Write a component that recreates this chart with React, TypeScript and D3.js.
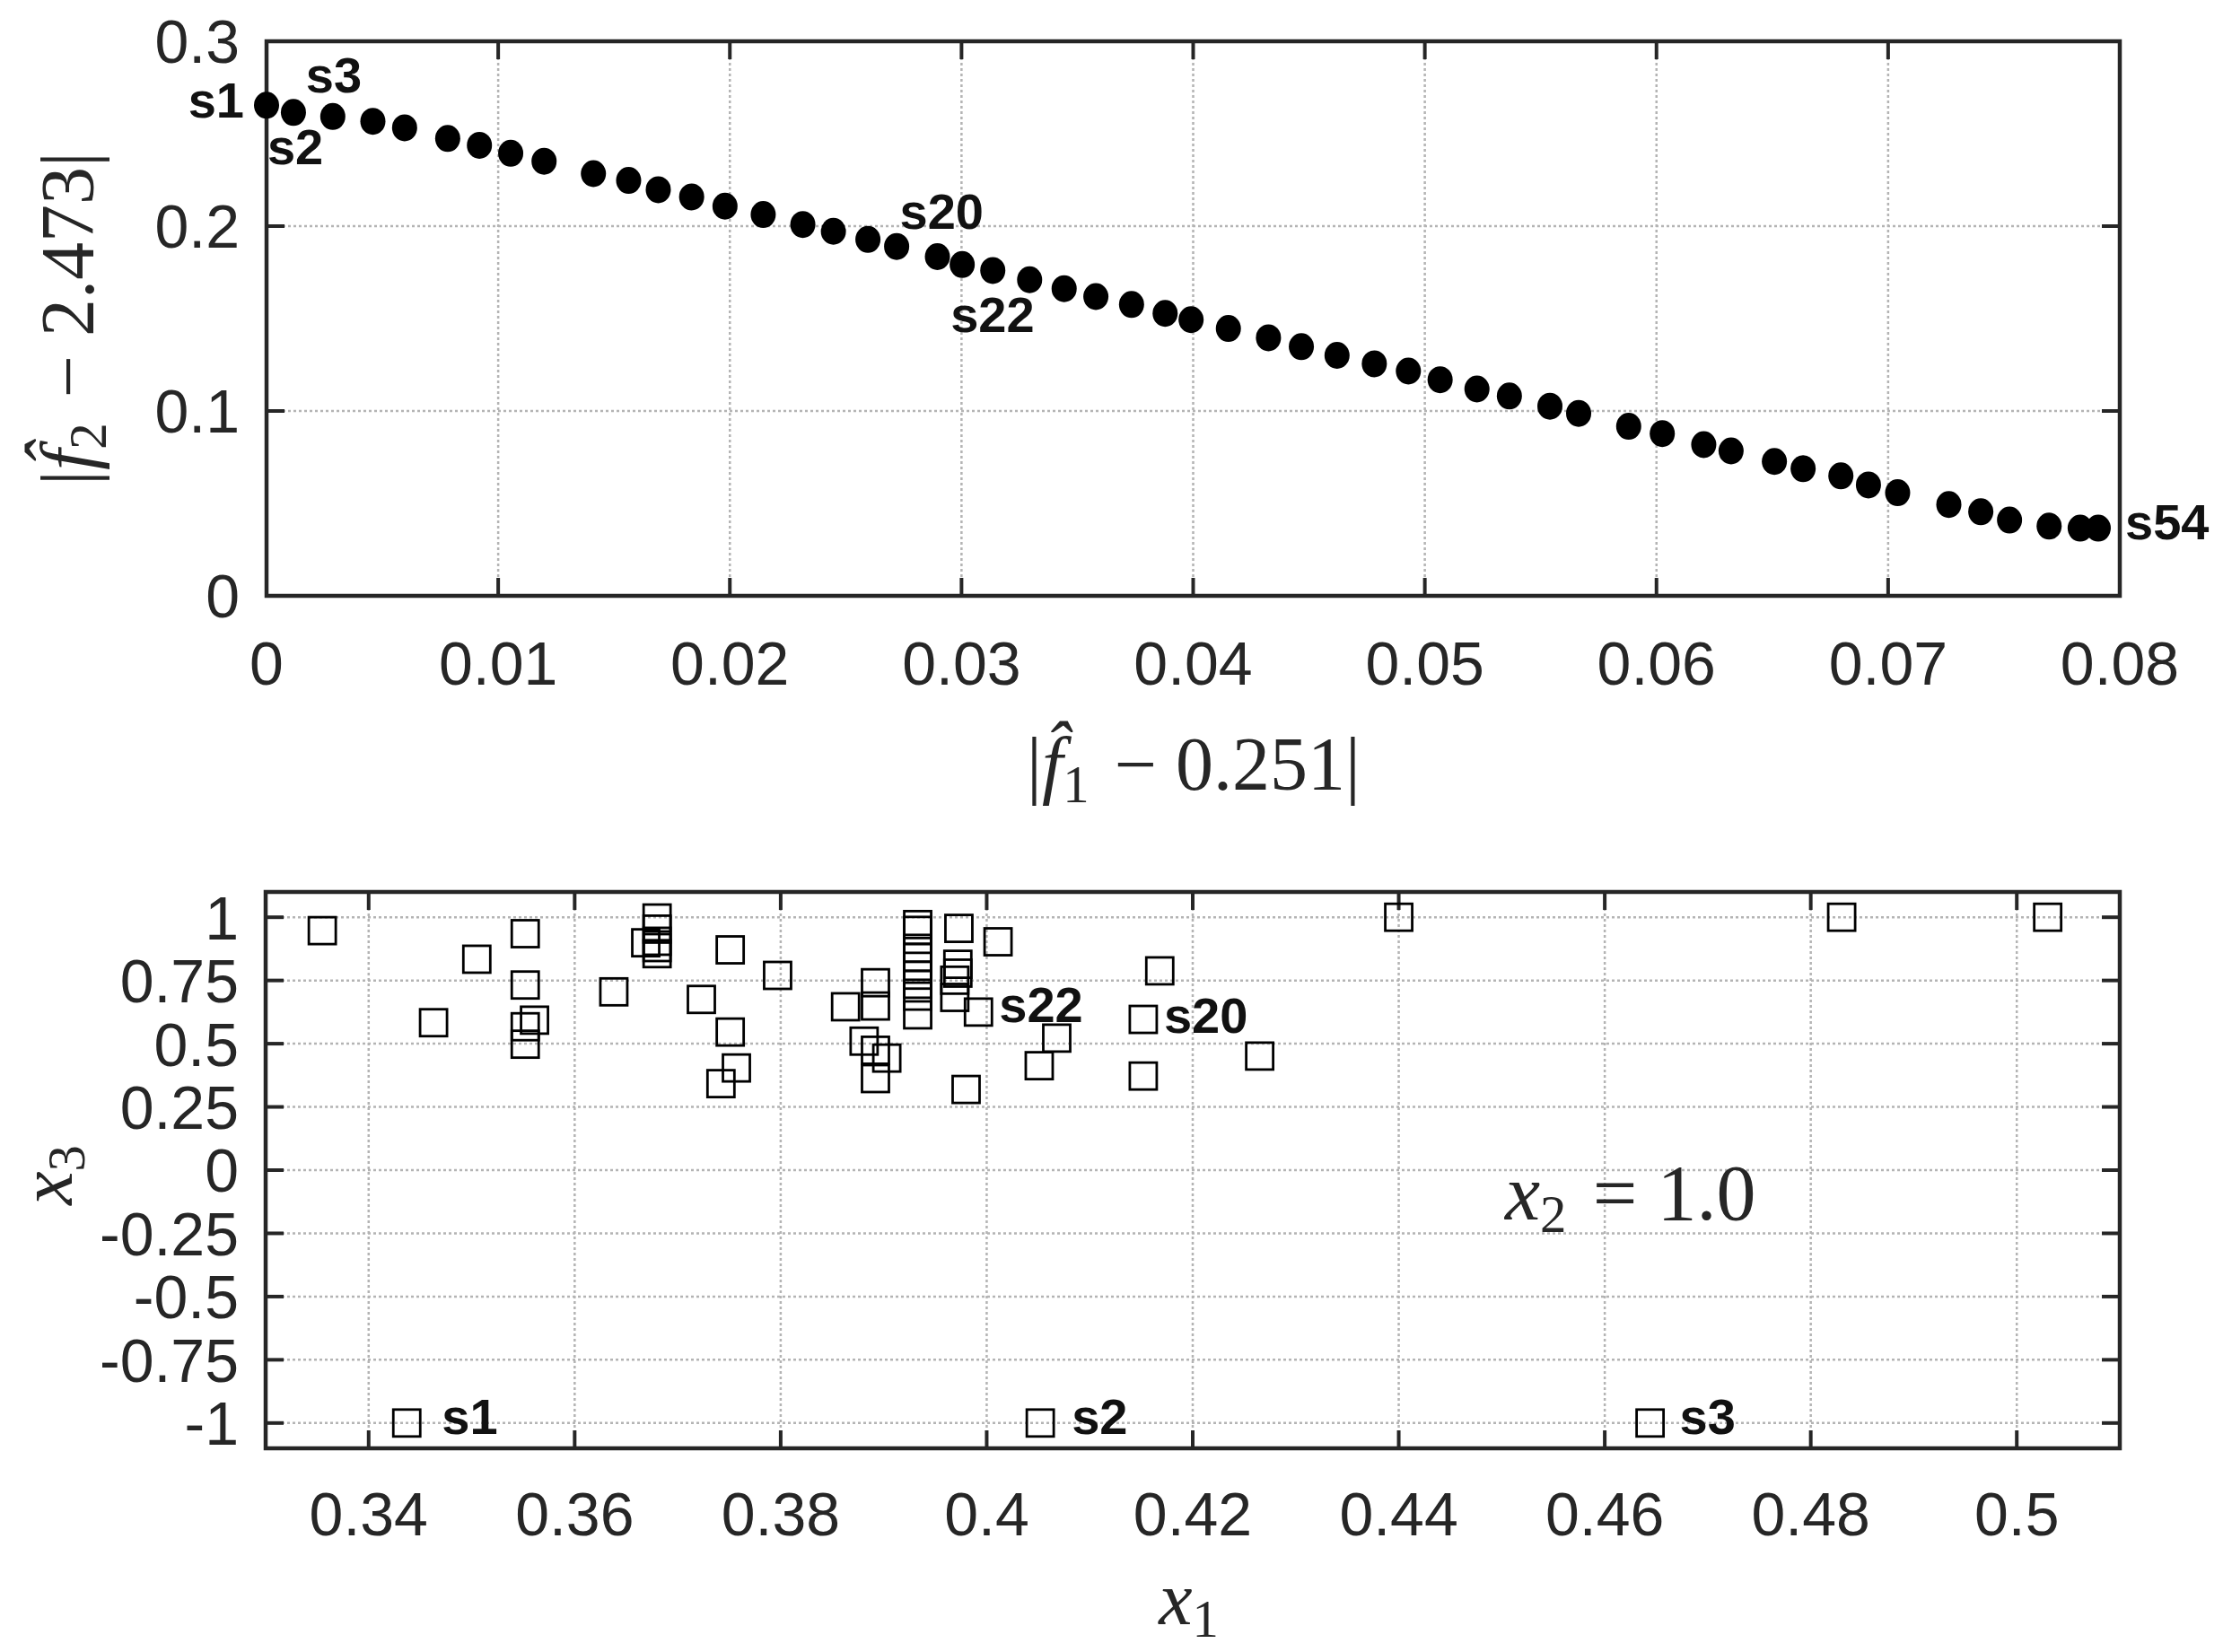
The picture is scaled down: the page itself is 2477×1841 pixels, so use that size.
import React from 'react';
import * as d3 from 'd3';

// ---- top panel: objective-space distances ----
const f1Dist = [
  0, 0.00116, 0.00286, 0.00459, 0.00596, 0.00782, 0.00919, 0.01054, 0.01198, 0.01411,
  0.01563, 0.01691, 0.01835, 0.01979, 0.02144, 0.02315, 0.02447, 0.02596, 0.0272, 0.02896,
  0.03003, 0.03135, 0.03294, 0.03443, 0.0358, 0.03734, 0.03879, 0.03991, 0.04152, 0.04325,
  0.04467, 0.04621, 0.04782, 0.04929, 0.05066, 0.05225, 0.05365, 0.0554, 0.05664, 0.0588,
  0.06025, 0.06204, 0.06322, 0.06509, 0.06633, 0.06796, 0.06915, 0.07041, 0.07262, 0.074,
  0.07524, 0.07695, 0.07829, 0.07907,
];
const f2Dist = [
  0.2654, 0.2615, 0.2593, 0.2567, 0.2532, 0.2474, 0.2437, 0.2394, 0.2351, 0.2284,
  0.2247, 0.2197, 0.2158, 0.2108, 0.2063, 0.2009, 0.1972, 0.1928, 0.189, 0.1835,
  0.1792, 0.176, 0.171, 0.1662, 0.1619, 0.1576, 0.1528, 0.1494, 0.1446, 0.1396,
  0.1348, 0.1301, 0.1255, 0.1216, 0.1169, 0.1119, 0.1081, 0.1026, 0.0987, 0.0917,
  0.0878, 0.0818, 0.0784, 0.0727, 0.0688, 0.0649, 0.06, 0.0558, 0.0494, 0.0455,
  0.041, 0.0377, 0.0366, 0.0366,
];
const topXTicks = [0, 0.01, 0.02, 0.03, 0.04, 0.05, 0.06, 0.07, 0.08];
const topXTickLabels = ['0', '0.01', '0.02', '0.03', '0.04', '0.05', '0.06', '0.07', '0.08'];
const topYTicks = [0, 0.1, 0.2, 0.3];
const topYTickLabels = ['0', '0.1', '0.2', '0.3'];

// ---- bottom panel: design variables ----
const x1Vals = [
  0.3437, 0.4052, 0.4644,
  0.3355, 0.3505, 0.3552, 0.3552, 0.3463, 0.3552, 0.3552, 0.3561, 0.3638,
  0.368, 0.368, 0.368, 0.368, 0.368, 0.3669,
  0.3751, 0.3797, 0.3723, 0.3751, 0.3757, 0.3742,
  0.3863, 0.3892, 0.3892, 0.3881, 0.3892, 0.3903, 0.3892,
  0.3933, 0.3933, 0.3933, 0.3933, 0.3933, 0.3933, 0.3933, 0.3933, 0.3933,
  0.3973, 0.3972, 0.3972, 0.3969, 0.3969,
  0.3992, 0.4011, 0.398,
  0.4068, 0.4051, 0.4168, 0.4152, 0.4152, 0.4265,
  0.44, 0.483, 0.503,
];
const x3Vals = [
  -1, -1, -1,
  0.947, 0.834, 0.935, 0.732, 0.583, 0.567, 0.498, 0.593, 0.705,
  0.997, 0.953, 0.905, 0.88, 0.856, 0.899,
  0.871, 0.77, 0.675, 0.546, 0.404, 0.342,
  0.646, 0.741, 0.649, 0.51, 0.474, 0.443, 0.362,
  0.971, 0.948, 0.877, 0.841, 0.806, 0.771, 0.735, 0.688, 0.614,
  0.956, 0.814, 0.779, 0.751, 0.683,
  0.625, 0.903, 0.319,
  0.522, 0.413, 0.788, 0.596, 0.372, 0.451,
  1, 1, 1,
];
const botXTicks = [0.34, 0.36, 0.38, 0.4, 0.42, 0.44, 0.46, 0.48, 0.5];
const botXTickLabels = ['0.34', '0.36', '0.38', '0.4', '0.42', '0.44', '0.46', '0.48', '0.5'];
const botYTicks = [1, 0.75, 0.5, 0.25, 0, -0.25, -0.5, -0.75, -1];
const botYTickLabels = ['1', '0.75', '0.5', '0.25', '0', '-0.25', '-0.5', '-0.75', '-1'];

// annotated solutions: index into the arrays above + pixel nudge of the text
const topNotes = [
  { i: 0, text: 's1', dx: -25, dy: 14, anchor: 'end' },
  { i: 1, text: 's2', dx: -29, dy: 58, anchor: 'start' },
  { i: 2, text: 's3', dx: -30, dy: -27, anchor: 'start' },
  { i: 19, text: 's20', dx: -42, dy: -31, anchor: 'start' },
  { i: 21, text: 's22', dx: -47, dy: 69, anchor: 'start' },
  { i: 53, text: 's54', dx: 30, dy: 12, anchor: 'start' },
];
const botNotes = [
  { i: 0, text: 's1', dx: 39, dy: 12 },
  { i: 1, text: 's2', dx: 35, dy: 12 },
  { i: 2, text: 's3', dx: 33, dy: 12 },
  { i: 45, text: 's22', dx: 23, dy: 11 },
  { i: 51, text: 's20', dx: 23, dy: 15 },
];

const W = 2477;
const H = 1841;
const AXIS = '#262626';
const SANS = '"Liberation Sans", Arial, Helvetica, sans-serif';
const SERIF = '"Liberation Serif", "DejaVu Serif", "Times New Roman", serif';
const TICK_FS = 68;
const NOTE_FS = 56;
const MATH_FS = 84;

function Frame({ x, y, xTicks, yTicks, xLabels, yLabels, xLabelBaseline }) {
  const [x0, x1] = x.range();
  const [y0, y1] = y.range(); // y0 bottom, y1 top
  const tl = 20;
  return (
    <g>
      {/* grid */}
      {xTicks.map((t, k) => (
        <line key={'gx' + k} x1={x(t)} x2={x(t)} y1={y1} y2={y0}
          stroke="#b4b4b4" strokeWidth={2.5} strokeDasharray="3 3" />
      ))}
      {yTicks.map((t, k) => (
        <line key={'gy' + k} x1={x0} x2={x1} y1={y(t)} y2={y(t)}
          stroke="#b4b4b4" strokeWidth={2.5} strokeDasharray="3 3" />
      ))}
      {/* ticks on all four sides, pointing in */}
      {xTicks.map((t, k) => (
        <g key={'tx' + k} stroke={AXIS} strokeWidth={4}>
          <line x1={x(t)} x2={x(t)} y1={y0} y2={y0 - tl} />
          <line x1={x(t)} x2={x(t)} y1={y1} y2={y1 + tl} />
        </g>
      ))}
      {yTicks.map((t, k) => (
        <g key={'ty' + k} stroke={AXIS} strokeWidth={4}>
          <line x1={x0} x2={x0 + tl} y1={y(t)} y2={y(t)} />
          <line x1={x1} x2={x1 - tl} y1={y(t)} y2={y(t)} />
        </g>
      ))}
      <rect x={x0} y={y1} width={x1 - x0} height={y0 - y1}
        fill="none" stroke={AXIS} strokeWidth={4.5} />
      {/* tick labels */}
      {xTicks.map((t, k) => (
        <text key={'lx' + k} x={x(t)} y={xLabelBaseline} textAnchor="middle"
          fontFamily={SANS} fontSize={TICK_FS} fill={AXIS}>{xLabels[k]}</text>
      ))}
      {yTicks.map((t, k) => (
        <text key={'ly' + k} x={x0 - 30} y={y(t)} dy="0.36em" textAnchor="end"
          fontFamily={SANS} fontSize={TICK_FS} fill={AXIS}>{yLabels[k]}</text>
      ))}
    </g>
  );
}

function Sub({ children, down = 14 }) {
  return (
    <>
      <tspan dy={down} fontSize={MATH_FS * 0.7} fontStyle="normal">{children}</tspan>
      <tspan dy={-down}>{'\u200a'}</tspan>
    </>
  );
}

export default function App() {
  // top axes
  const tx = d3.scaleLinear().domain([0, 0.08]).range([297, 2362]);
  const ty = d3.scaleLinear().domain([0, 0.3]).range([664, 46]);
  // bottom axes
  const bx = d3.scaleLinear().domain([0.33, 0.51]).range([296, 2362]);
  const by = d3.scaleLinear().domain([-1.1, 1.1]).range([1614, 994]);

  const sq = 30;

  return (
    <svg width={W} height={H} viewBox={`0 0 ${W} ${H}`}
      style={{ position: 'absolute', left: 0, top: 0, background: '#fff' }}>
      <rect width={W} height={H} fill="#fff" />

      {/* ===== top panel ===== */}
      <Frame x={tx} y={ty} xTicks={topXTicks} yTicks={topYTicks}
        xLabels={topXTickLabels} yLabels={topYTickLabels} xLabelBaseline={763} />
      {f1Dist.map((v, k) => (
        <ellipse key={'d' + k} cx={tx(v)} cy={ty(f2Dist[k])} rx={14} ry={15} fill="#000" />
      ))}
      {topNotes.map((n) => (
        <text key={'tn' + n.text} x={tx(f1Dist[n.i]) + n.dx} y={ty(f2Dist[n.i]) + n.dy}
          textAnchor={n.anchor} fontFamily={SANS} fontWeight="bold" fontSize={NOTE_FS} fill="#111">
          {n.text}
        </text>
      ))}
      <text x={1330} y={880} textAnchor="middle" fontFamily={SERIF} fontSize={MATH_FS} fill={AXIS}>
        |<tspan fontStyle="italic">{'f\u0302'}</tspan><Sub>1</Sub>{' \u2212 0.251|'}
      </text>
      <text transform="translate(104,355) rotate(-90)" textAnchor="middle"
        fontFamily={SERIF} fontSize={MATH_FS} fill={AXIS}>
        |<tspan fontStyle="italic">{'f\u0302'}</tspan><Sub>2</Sub>{' \u2212 2.473|'}
      </text>

      {/* ===== bottom panel ===== */}
      <Frame x={bx} y={by} xTicks={botXTicks} yTicks={botYTicks}
        xLabels={botXTickLabels} yLabels={botYTickLabels} xLabelBaseline={1711} />
      {x1Vals.map((v, k) => (
        <rect key={'s' + k} x={bx(v) - sq / 2} y={by(x3Vals[k]) - sq / 2} width={sq} height={sq}
          fill="none" stroke="#000" strokeWidth={2.8} />
      ))}
      {botNotes.map((n) => (
        <text key={'bn' + n.text} x={bx(x1Vals[n.i]) + n.dx} y={by(x3Vals[n.i]) + n.dy}
          fontFamily={SANS} fontWeight="bold" fontSize={NOTE_FS} fill="#111">
          {n.text}
        </text>
      ))}
      <text x={1677} y={1359} fontFamily={SERIF} fontSize={MATH_FS + 4} fill={AXIS}>
        <tspan fontStyle="italic">x</tspan><Sub>2</Sub>{'\u2005=\u20051.0'}
      </text>
      <text x={1328} y={1810} textAnchor="middle" fontFamily={SERIF} fontSize={MATH_FS} fill={AXIS}>
        <tspan fontStyle="italic">x</tspan><Sub>1</Sub>
      </text>
      <text transform="translate(80,1306) rotate(-90)" textAnchor="middle"
        fontFamily={SERIF} fontSize={MATH_FS} fill={AXIS}>
        <tspan fontStyle="italic">x</tspan><Sub>3</Sub>
      </text>
    </svg>
  );
}
